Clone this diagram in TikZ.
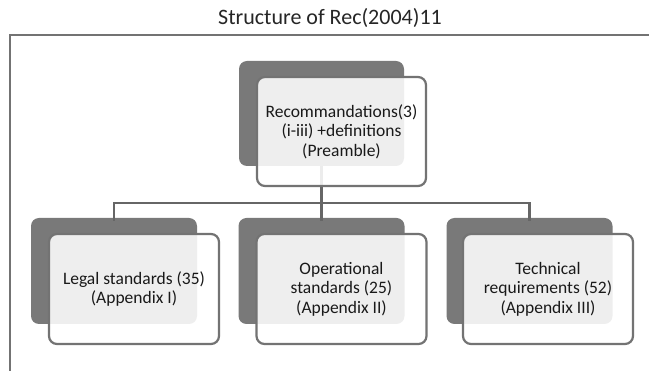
\documentclass[tikz,border=0pt]{standalone}
\usepackage{fontspec}
\setmainfont{Carlito}
\begin{document}
\begin{tikzpicture}[x=1pt,y=-1pt,
  darkbox/.style={draw=none,fill=gray!95!black,rounded corners=8pt,minimum width=166pt,minimum height=106pt,inner sep=0pt},
  lightbox/.style={draw=gray!90!black,line width=2.2pt,fill=white,fill opacity=0.88,text opacity=1,rounded corners=8pt,minimum width=170pt,minimum height=110pt,align=center,font=\fontsize{17.5}{19.5}\selectfont,text=black!90},
  conn/.style={draw=black!60,line width=2.4pt},
  frame/.style={draw=black!55,line width=2pt}]
\useasboundingbox (0,0) rectangle (649,371);
\fill[white] (0,0) rectangle (649,371);
\node[font=\fontsize{22}{26}\selectfont,text=black!85] (title) at (330,18) {Structure of Rec(2004)11};
\coordinate (fbl) at (10,371);
\coordinate (ftl) at (10,35);
\coordinate (ftr) at (649,35);
\draw[frame] (fbl) -- (ftl) -- (ftr);
% dark back boxes
\node[darkbox,minimum width=165pt,minimum height=105pt] (td) at (321.5,113.5) {};
\node[darkbox] (ld) at (114,271) {};
\node[darkbox] (md) at (321.5,271) {};
\node[darkbox] (rd) at (529.5,271) {};
% connectors
\coordinate (bus) at (321.5,203);
\draw[conn] (td.south) -- (bus);
\draw[conn] (bus) -| ([yshift=-3pt]ld.north);
\draw[conn] (bus) -| ([yshift=-3pt]rd.north);
\draw[conn] (bus) -- ([yshift=-3pt]md.north);
% light front boxes
\node[lightbox,minimum width=169pt,minimum height=109pt] (t) at (341.5,131.5) {Recommandations(3)\\(i-iii) +definitions\\(Preamble)};
\node[lightbox] (l) at (134,289) {Legal standards (35)\\(Appendix I)};
\node[lightbox] (m) at (341.5,289) {Operational\\standards (25)\\(Appendix II)};
\node[lightbox] (r) at (548,289) {Technical\\requirements (52)\\(Appendix III)};
\end{tikzpicture}
\end{document}
